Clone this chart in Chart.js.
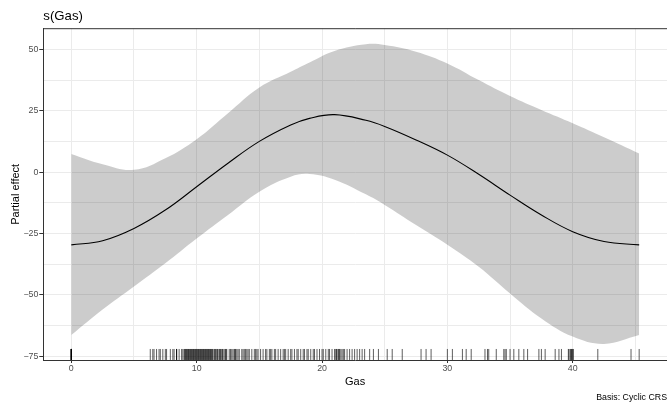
<!DOCTYPE html>
<html>
<head>
<meta charset="utf-8">
<title>s(Gas)</title>
<script src="https://cdn.jsdelivr.net/npm/chart.js@4.4.1/dist/chart.umd.min.js"></script>
<style>
  body { margin: 0; background: #fff; }
</style>
</head>
<body>
<canvas id="chart" width="667" height="409"></canvas>
<script>
// smooth estimate
const gas = [0, 2.5, 5, 7.5, 10, 12.5, 15, 17.5, 19, 21, 23.5, 25, 27.5, 30, 32.5, 35, 37.5, 40, 42.5, 45.3];
const fit = [-29.6, -27.9, -22.9, -15.4, -5.9, 3.7, 12.6, 19.3, 22.0, 23.5, 21.2, 18.7, 13.2, 7.0, -0.8, -9.3, -17.4, -24.2, -28.2, -29.6];
const upper = [7.5, 3.3, 1.0, 5.7, 13.5, 24.1, 34.6, 41.0, 44.8, 49.5, 52.2, 51.9, 49.2, 44.4, 37.6, 31.1, 25.4, 20.0, 14.3, 7.7];
const lower = [-66.4, -56.0, -46.6, -37.1, -27.0, -17.4, -7.9, -1.8, -0.7, -3.0, -9.0, -13.3, -21.5, -29.5, -38.5, -49.4, -59.6, -67.0, -70.0, -66.4];

// observed Gas values (rug)
const rugGas = [
  0, 0, 0, 0, 0, 0, 0, 0,
  6.3, 6.5, 6.6, 6.8, 7.0, 7.1, 7.3, 7.5, 7.6, 7.9, 8.1, 8.2, 8.4, 8.4, 8.4, 8.6, 8.8, 8.9,
  9.0, 9.05, 9.1, 9.15, 9.2, 9.25, 9.3, 9.35, 9.4, 9.45, 9.5, 9.55, 9.6, 9.65, 9.7, 9.75, 9.8,
  9.85, 9.9, 9.95, 10.0, 10.05, 10.1, 10.15, 10.2, 10.25, 10.3, 10.35, 10.4, 10.45, 10.5, 10.55,
  10.6, 10.65, 10.7, 10.75, 10.8, 10.85, 10.9, 10.95, 11.0, 11.05, 11.1, 11.15, 11.2, 11.25, 11.3,
  11.4, 11.45, 11.5, 11.6, 11.65, 11.7, 11.8, 11.85, 11.9, 12.0, 12.05, 12.1, 12.2, 12.3, 12.35, 12.4,
  12.6, 12.7, 12.8, 12.9, 13.0, 13.05, 13.1, 13.2, 13.3, 13.4, 13.6, 13.7, 13.8, 13.9, 14.0, 14.1,
  14.2, 14.4, 14.6, 14.7, 14.8, 14.9, 15.1, 15.3, 15.5, 15.6, 15.8, 15.9, 16.0, 16.2, 16.3, 16.5,
  16.7, 16.9, 17.0, 17.1, 17.3, 17.5, 17.6, 17.8, 18.0, 18.1, 18.3, 18.5, 18.6, 18.8, 18.9, 19.1,
  19.3, 19.4, 19.6, 19.8, 20.0, 20.1, 20.3, 20.5, 20.6, 20.8, 21.0, 21.1, 21.15, 21.2, 21.3, 21.35,
  21.4, 21.5, 21.6, 21.7, 21.8, 22.0, 22.2, 22.4, 22.6, 22.8, 23.0, 23.2, 23.4,
  23.8, 24.1, 24.5, 25.2, 25.6, 26.4, 27.9, 28.3, 28.7, 30.0, 30.4, 31.2, 31.5, 31.9,
  33.0, 33.2, 33.3, 33.9, 34.5, 34.6, 34.7, 35.0, 35.3, 35.7, 36.1, 36.4, 37.3, 37.5, 37.8,
  38.6, 38.9, 39.1, 39.65, 39.7, 39.8, 39.85, 39.9, 39.95, 40.0, 40.05, 42.0, 44.65, 45.3
];

const xTickLabels = [0, 10, 20, 30, 40];
const yTickLabels = [-75, -50, -25, 0, 25, 50];

const FONT = "'Liberation Sans', Arial, Helvetica, sans-serif";
const GRID = "#EBEBEB";
const DARK = "#333333";

// majors plus the minor lines halfway between them, kept inside the range
function withMinors(major, lo, hi) {
  const step = major[1] - major[0];
  const out = [];
  major.forEach(v => { out.push(v - step / 2); out.push(v); });
  out.push(major[major.length - 1] + step / 2);
  return out.filter(v => v > lo && v < hi);
}
const isMajor = (list, v) => list.some(m => Math.abs(m - v) < 1e-6);
const minusFmt = v => (v < 0 ? "\u2212" + (-v) : String(v));

const topBorder = {
  id: "topBorder",
  afterDraw(chart) {
    const { ctx, chartArea } = chart;
    ctx.save();
    ctx.strokeStyle = DARK;
    ctx.lineWidth = 1;
    ctx.beginPath();
    ctx.moveTo(chartArea.left, chartArea.top);
    ctx.lineTo(chartArea.right, chartArea.top);
    ctx.stroke();
    ctx.restore();
  }
};

const X_MIN = -2.234, X_MAX = 47.52, Y_MIN = -76.55, Y_MAX = 58.56;

new Chart(document.getElementById("chart"), {
  type: "line",
  data: {
    datasets: [
      {
        label: "fit",
        data: gas.map((g, i) => ({ x: g, y: fit[i] })),
        borderColor: "#000",
        borderWidth: 1.1,
        pointRadius: 0,
        tension: 0.4,
        fill: false
      },
      {
        label: "upper",
        data: gas.map((g, i) => ({ x: g, y: upper[i] })),
        borderWidth: 0,
        pointRadius: 0,
        tension: 0.4,
        backgroundColor: "rgba(0,0,0,0.2)",
        fill: "+1"
      },
      {
        label: "lower",
        data: gas.map((g, i) => ({ x: g, y: lower[i] })),
        borderWidth: 0,
        pointRadius: 0,
        tension: 0.4,
        fill: false
      },
      {
        label: "rug",
        data: rugGas.map(g => ({ x: g, y: -74.3 })),
        showLine: false,
        pointStyle: "line",
        pointRotation: 90,
        pointRadius: 5.5,
        pointBorderWidth: 0.75,
        pointBorderColor: "rgba(0,0,0,0.85)",
        fill: false
      }
    ]
  },
  options: {
    responsive: false,
    animation: false,
    events: [],
    layout: { padding: 0, autoPadding: false },
    plugins: {
      legend: { display: false },
      tooltip: { enabled: false },
      title: {
        display: true,
        text: "s(Gas)",
        align: "start",
        fullSize: false,
        color: "#000",
        font: { family: FONT, size: 13.2, weight: "normal" },
        padding: { top: 8, bottom: 4.86 }
      },
      subtitle: {
        display: true,
        text: "Basis: Cyclic CRS",
        position: "bottom",
        align: "end",
        color: "#000",
        font: { family: FONT, size: 8.8 },
        padding: { top: 4, bottom: 6 }
      }
    },
    scales: {
      x: {
        type: "linear",
        min: X_MIN,
        max: X_MAX,
        afterBuildTicks: axis => { axis.ticks = withMinors(xTickLabels, X_MIN, X_MAX).map(v => ({ value: v })); },
        afterFit: scale => { scale.height = 28.44; scale.paddingRight = 0; scale.paddingLeft = 0; },
        ticks: {
          autoSkip: false,
          maxRotation: 0,
          padding: 0.5,
          color: "#4D4D4D",
          font: { family: FONT, size: 8.8 },
          callback: v => (isMajor(xTickLabels, v) ? String(v) : "")
        },
        grid: {
          color: GRID,
          lineWidth: 1,
          tickLength: 3,
          tickColor: c => (isMajor(xTickLabels, c.tick.value) ? DARK : "rgba(0,0,0,0)")
        },
        border: { color: DARK, width: 1 },
        title: {
          display: true,
          text: "Gas",
          color: "#000",
          font: { family: FONT, size: 11 },
          padding: { top: 0, bottom: 0.34 }
        }
      },
      y: {
        min: Y_MIN,
        max: Y_MAX,
        afterBuildTicks: axis => { axis.ticks = withMinors(yTickLabels, Y_MIN, Y_MAX).map(v => ({ value: v })); },
        afterFit: scale => { scale.width = 43.3; scale.paddingTop = 0; scale.paddingBottom = 0; },
        ticks: {
          autoSkip: false,
          padding: 1,
          color: "#4D4D4D",
          font: { family: FONT, size: 8.8 },
          callback: v => (isMajor(yTickLabels, v) ? minusFmt(v) : "")
        },
        grid: {
          color: GRID,
          lineWidth: 1,
          tickLength: 4,
          tickColor: c => (isMajor(yTickLabels, c.tick.value) ? DARK : "rgba(0,0,0,0)")
        },
        border: { color: DARK, width: 1 },
        title: {
          display: true,
          text: "Partial effect",
          color: "#000",
          font: { family: FONT, size: 11 },
          padding: { top: 9.4, bottom: 0 }
        }
      }
    }
  },
  plugins: [topBorder]
});
</script>
</body>
</html>
